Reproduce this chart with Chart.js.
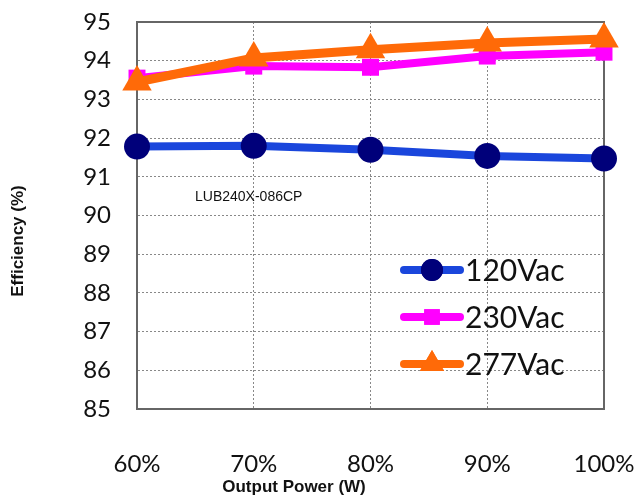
<!DOCTYPE html>
<html>
<head>
<meta charset="utf-8">
<script src="https://cdn.jsdelivr.net/npm/chart.js@4"></script>
<style>
  html, body { margin: 0; padding: 0; background: #fff; }
  #wrap { width: 638px; height: 499px; position: relative; }
</style>
</head>
<body>
<div id="wrap"><canvas id="grafico"></canvas></div>
<script>
// ── Dados ──
const categorias = ["60%", "70%", "80%", "90%", "100%"];
const serie120 = [91.78, 91.80, 91.70, 91.54, 91.47];
const serie230 = [93.55, 93.86, 93.83, 94.12, 94.22];
const serie277 = [93.45, 94.07, 94.28, 94.46, 94.56];
const ticksY   = [85, 86, 87, 88, 89, 90, 91, 92, 93, 94, 95];

const FONTE_NUM = "Lato, 'Open Sans', sans-serif";
const FONTE_TIT = "'Liberation Sans', Arial, sans-serif";

// ── Legenda + textos extras ──
const extras = {
    id: "extras",
    beforeDatasetsDraw(chart) {
        // moldura sólida em volta da área do gráfico
        const a = chart.chartArea;
        const ctx = chart.ctx;
        ctx.save();
        ctx.strokeStyle = "#666";
        ctx.lineWidth = 2;
        ctx.strokeRect(a.left, a.top, a.right - a.left, a.bottom - a.top);
        ctx.restore();
    },
    afterDraw(chart) {
        const ctx = chart.ctx;
        ctx.save();

        // rótulo do modelo
        ctx.fillStyle = "#111";
        ctx.font = `14px ${FONTE_TIT}`;
        ctx.textAlign = "left";
        ctx.textBaseline = "middle";
        ctx.fillText("LUB240X-086CP", 195, 197);

        // títulos dos eixos
        ctx.font = `bold 17px ${FONTE_TIT}`;
        ctx.textAlign = "center";
        ctx.fillText("Output Power (W)", 294, 487);
        ctx.save();
        ctx.translate(18, 241);
        ctx.rotate(-Math.PI / 2);
        ctx.fillText("Efficiency (%)", 0, 0);
        ctx.restore();

        // legenda
        const itens = chart.data.datasets.slice().sort((a, b) => a.legendaPos - b.legendaPos);
        itens.forEach((ds, i) => {
            const y = 270 + i * 47;
            ctx.strokeStyle = ds.borderColor;
            ctx.lineWidth = 8;
            ctx.lineCap = "round";
            ctx.beginPath();
            ctx.moveTo(404, y);
            ctx.lineTo(460, y);
            ctx.stroke();
            ctx.fillStyle = ds.pointBackgroundColor;
            ctx.beginPath();
            Chart.helpers.drawPoint(ctx, {
                pointStyle: ds.pointStyle,
                radius: ds.legendaRaio,
                borderWidth: 0,
            }, 432, y);
            ctx.fill();
            ctx.fillStyle = "#111";
            ctx.font = `30px ${FONTE_NUM}`;
            ctx.textAlign = "left";
            ctx.fillText(ds.label, 465, y + 1);
        });
        ctx.restore();
    }
};

new Chart(document.getElementById("grafico"), {
    type: "line",
    data: {
        labels: categorias,
        datasets: [
            {
                label: "120Vac",
                data: serie120,
                borderColor: "#1a46dc",
                borderWidth: 8,
                pointStyle: "circle",
                pointRadius: 13,
                pointBackgroundColor: "#00007a",
                pointBorderWidth: 0,
                legendaRaio: 11,
                legendaPos: 0,
                order: 2,
            },
            {
                label: "230Vac",
                data: serie230,
                borderColor: "#ff00ff",
                borderWidth: 8,
                pointStyle: "rect",
                pointRadius: 12,
                pointBackgroundColor: "#ff00ff",
                pointBorderWidth: 0,
                legendaRaio: 11,
                legendaPos: 1,
                order: 1,
            },
            {
                label: "277Vac",
                data: serie277,
                borderColor: "#ff6a08",
                borderWidth: 9,
                pointStyle: "triangle",
                pointRadius: 17,
                pointBackgroundColor: "#ff6a08",
                pointBorderWidth: 0,
                legendaRaio: 14,
                legendaPos: 2,
                order: 0,
            },
        ]
    },
    options: {
        responsive: true,
        maintainAspectRatio: false,
        animation: false,
        layout: { padding: { top: 22, right: 34, left: 0, bottom: 0 } },
        plugins: {
            legend: { display: false },
            tooltip: { enabled: false }
        },
        elements: { line: { tension: 0 } },
        scales: {
            x: {
                offset: false,
                afterFit: s => { s.height = 90; s.paddingLeft = 0; s.paddingRight = 0; },
                grid: { color: "#888", lineWidth: 1, drawTicks: false },
                border: { color: "#666", width: 2, dash: [2, 2] },
                ticks: { color: "#111", font: { family: FONTE_NUM, size: 24 }, padding: 41, maxRotation: 0 }
            },
            y: {
                min: 85,
                max: 95,
                afterFit: s => { s.width = 137; s.paddingTop = 0; s.paddingBottom = 0; },
                afterBuildTicks: s => { s.ticks = ticksY.map(v => ({ value: v })); },
                grid: { color: "#888", lineWidth: 1, drawTicks: false },
                border: { color: "#666", width: 2, dash: [2, 2] },
                ticks: { color: "#111", font: { family: FONTE_NUM, size: 24 }, padding: 26 }
            }
        }
    },
    plugins: [extras]
});
</script>
</body>
</html>
